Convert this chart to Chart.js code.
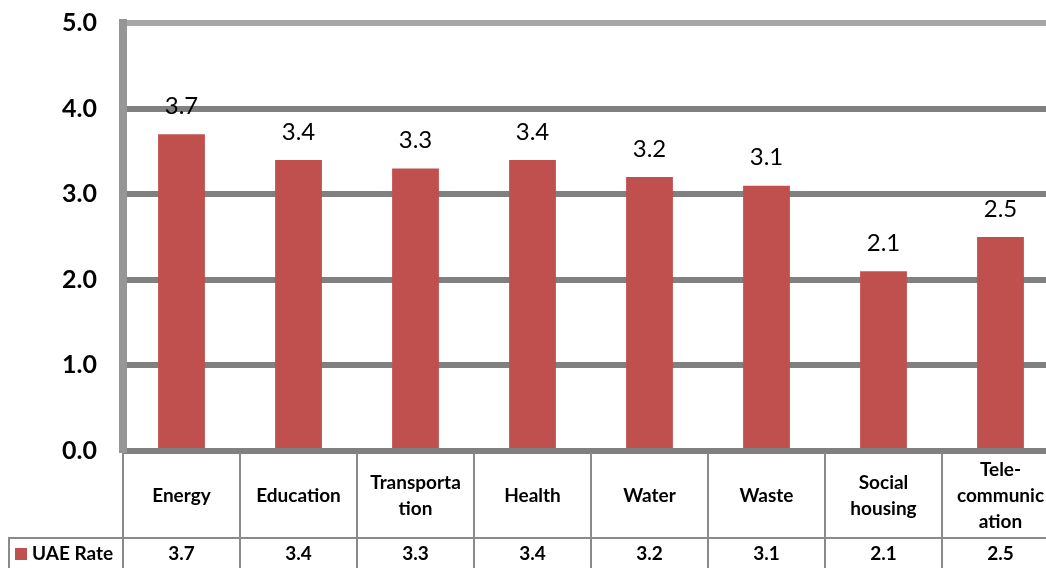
<!DOCTYPE html>
<html>
<head>
<meta charset="utf-8">
<script src="https://cdn.jsdelivr.net/npm/chart.js@4.4.1/dist/chart.umd.min.js"></script>
<style>
  html, body { margin: 0; padding: 0; background: #fff; overflow: hidden; }
  #wrap { width: 1060px; height: 568px; position: relative; }
</style>
</head>
<body>
<div id="wrap"><canvas id="chart"></canvas></div>
<script>
// chart data
const categories = [
  ["Energy"], ["Education"], ["Transporta", "tion"], ["Health"],
  ["Water"], ["Waste"], ["Social", "housing"], ["Tele-", "communic", "ation"]
];
const seriesName = "UAE Rate";
const uaeRate = [3.7, 3.4, 3.3, 3.4, 3.2, 3.1, 2.1, 2.5];
const yTicks = [0, 1, 2, 3, 4, 5];

const barColor = "#c0504d";
const FONT = "Lato, 'Open Sans', sans-serif";

// walls, data labels and the data table under the axis
const tablePlugin = {
  id: "excelTable",
  beforeDatasetsDraw(chart) {
    const ctx = chart.ctx;
    const area = chart.chartArea;
    ctx.save();
    ctx.fillStyle = "#969696";
    ctx.fillRect(area.left - 4, area.top - 4, 8, area.bottom - area.top + 6);
    ctx.restore();
  },
  afterDraw(chart) {
    const ctx = chart.ctx;
    const area = chart.chartArea;
    const x = chart.scales.x;
    const n = categories.length;
    const catW = (area.right - area.left) / n;
    const row1Top = area.bottom + 2;
    const row2Top = 538;
    const bottom = chart.height;

    ctx.save();
    // data labels
    const meta = chart.getDatasetMeta(0);
    ctx.fillStyle = "#000";
    ctx.font = "24px " + FONT;
    ctx.textAlign = "center";
    ctx.textBaseline = "middle";
    meta.data.forEach((bar, i) => {
      ctx.fillText(uaeRate[i].toFixed(1), bar.x, bar.y - 28);
    });

    // table lines
    ctx.strokeStyle = "#8a8a8a";
    ctx.lineWidth = 2;
    ctx.beginPath();
    for (let i = 0; i <= n; i++) {
      const lx = area.left + i * catW;
      ctx.moveTo(lx, row1Top);
      ctx.lineTo(lx, bottom);
    }
    ctx.moveTo(8, row2Top);
    ctx.lineTo(area.right, row2Top);
    ctx.moveTo(9, row2Top);
    ctx.lineTo(9, bottom);
    ctx.stroke();

    // category names
    ctx.font = "bold 19px " + FONT;
    const lineH = 26;
    const mid1 = (row1Top + row2Top) / 2;
    categories.forEach((lines, i) => {
      const cx = x.getPixelForValue(i);
      const y0 = mid1 - (lines.length - 1) * lineH / 2;
      lines.forEach((t, k) => ctx.fillText(t, cx, y0 + k * lineH));
    });

    // values row
    const mid2 = (row2Top + bottom) / 2 + 1;
    uaeRate.forEach((v, i) => {
      ctx.fillText(v.toFixed(1), x.getPixelForValue(i), mid2);
    });

    // legend key
    ctx.fillStyle = barColor;
    ctx.fillRect(15, mid2 - 6, 12, 12);
    ctx.fillStyle = "#000";
    ctx.textAlign = "left";
    ctx.fillText(seriesName, 32, mid2);
    ctx.restore();
  }
};

new Chart(document.getElementById("chart"), {
  type: "bar",
  data: {
    labels: categories,
    datasets: [{
      label: seriesName,
      data: uaeRate,
      backgroundColor: barColor,
      borderWidth: 0,
      barPercentage: 0.4,
      categoryPercentage: 1.0
    }]
  },
  options: {
    responsive: true,
    maintainAspectRatio: false,
    animation: false,
    layout: { padding: { top: 23, right: 1, left: 0, bottom: 0 } },
    plugins: {
      legend: { display: false },
      tooltip: { enabled: false }
    },
    scales: {
      x: {
        grid: { display: false },
        border: { display: false },
        ticks: { display: false },
        afterFit: (scale) => { scale.height = 117; }
      },
      y: {
        min: 0,
        max: 5,
        afterBuildTicks: (scale) => { scale.ticks = yTicks.map(v => ({ value: v })); },
        afterFit: (scale) => {
          scale.width = 123;
          scale.paddingTop = 0;
          scale.paddingBottom = 0;
        },
        border: { display: false },
        grid: {
          drawTicks: false,
          lineWidth: 6,
          color: (c) => c.tick && c.tick.value === 5 ? "#a6a6a6" : "#808080"
        },
        ticks: {
          color: "#000",
          padding: 26,
          font: { family: FONT, size: 25, weight: "bold" },
          callback: (v) => Number(v).toFixed(1)
        }
      }
    }
  },
  plugins: [tablePlugin]
});
</script>
</body>
</html>
